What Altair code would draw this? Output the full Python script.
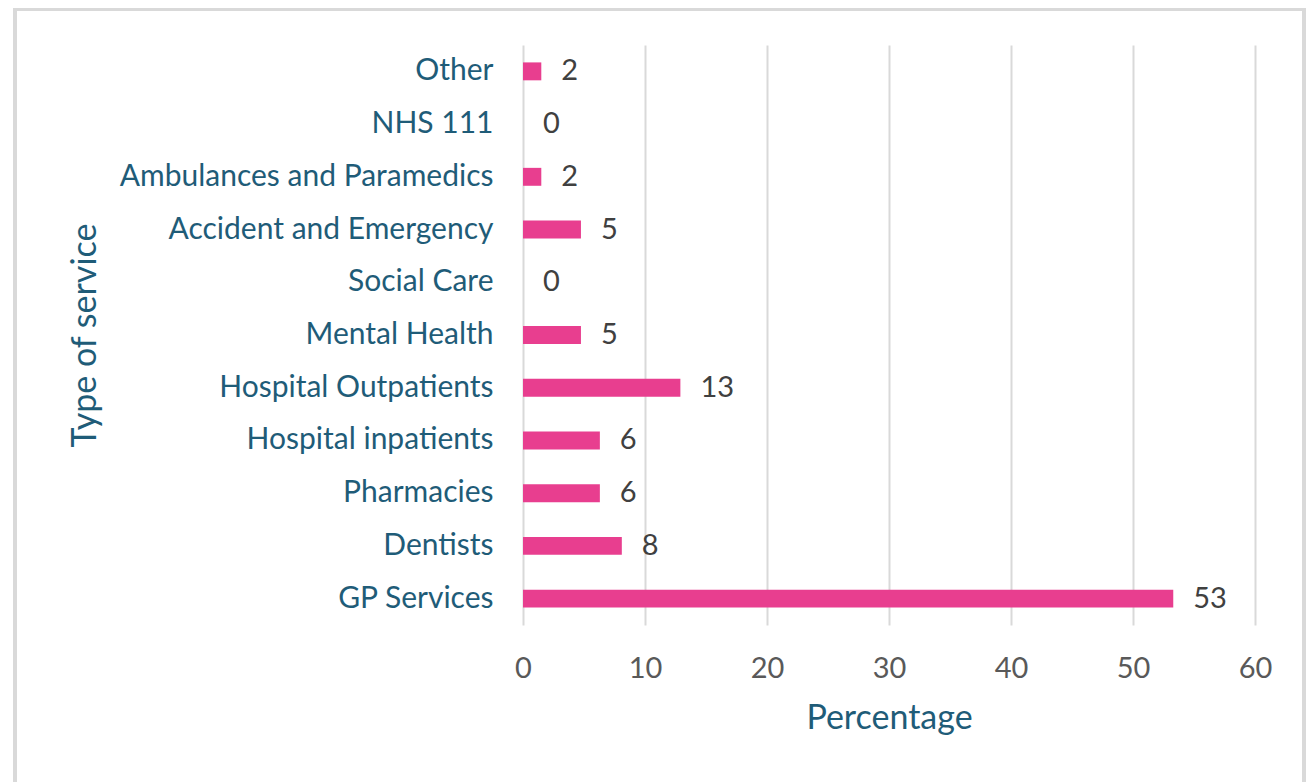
import altair as alt
import pandas as pd

categories = ["Other", "NHS 111", "Ambulances and Paramedics", "Accident and Emergency",
              "Social Care", "Mental Health", "Hospital Outpatients", "Hospital inpatients",
              "Pharmacies", "Dentists", "GP Services"]
values = [1.5, 0, 1.5, 4.75, 0, 4.75, 12.9, 6.3, 6.3, 8.1, 53.3]
labels = ["2", "0", "2", "5", "0", "5", "13", "6", "6", "8", "53"]
x_ticks = [0, 10, 20, 30, 40, 50, 60]

df = pd.DataFrame({"service": categories, "pct": values, "label": labels})

FONT = "Lato"
W, H = 732, 580
PAD_L, PAD_T, PAD_R, PAD_B = 515, 37, 52, 160

y_enc = alt.Y("service:N", sort=categories, title="Type of service",
              scale=alt.Scale(paddingInner=0.66, paddingOuter=0.33),
              axis=alt.Axis(domain=False, ticks=False, labelPadding=30, labelLimit=600,
                            labelFont=FONT, labelFontSize=30, labelColor="#1F5C78",
                            titleFont=FONT, titleFontSize=34, titleFontWeight="normal",
                            titleColor="#1F5C78", titleX=-438, titleY=H / 2,
                            titleAngle=-90, titleBaseline="middle", titleAlign="center"))

x_enc = alt.X("pct:Q", title="Percentage",
              scale=alt.Scale(domain=[0, 60], nice=False),
              axis=alt.Axis(values=x_ticks, domain=False, ticks=False, grid=True,
                            gridColor="#D9D9D9", gridWidth=2, labelPadding=29,
                            labelFlush=False,
                            labelFont=FONT, labelFontSize=29, labelColor="#595959",
                            titleFont=FONT, titleFontSize=34, titleFontWeight="normal",
                            titleColor="#1F5C78", titleY=93, titleBaseline="middle"))

bars = alt.Chart(df).mark_bar(color="#E83E8F").encode(x=x_enc, y=y_enc)

text = alt.Chart(df).mark_text(align="left", baseline="middle", dx=20, font=FONT,
                               fontSize=29, color="#404040").encode(
    x=alt.X("pct:Q"), y=alt.Y("service:N", sort=categories), text="label:N")

frame = alt.Chart(df).mark_rect(fill=None, stroke="#D9D9D9", strokeWidth=4).encode(
    x=alt.value(-508), x2=alt.value(W + PAD_R - 3),
    y=alt.value(-36), y2=alt.value(H + PAD_B + 20))

chart = alt.layer(frame, bars, text).properties(
    width=W, height=H,
    autosize=alt.AutoSizeParams(type="none"),
    padding={"left": PAD_L, "top": PAD_T, "right": PAD_R, "bottom": PAD_B},
).configure(background="white").configure_view(stroke=None, strokeWidth=0)

chart.save("out.html", embed_options={"renderer": "svg", "actions": False})
